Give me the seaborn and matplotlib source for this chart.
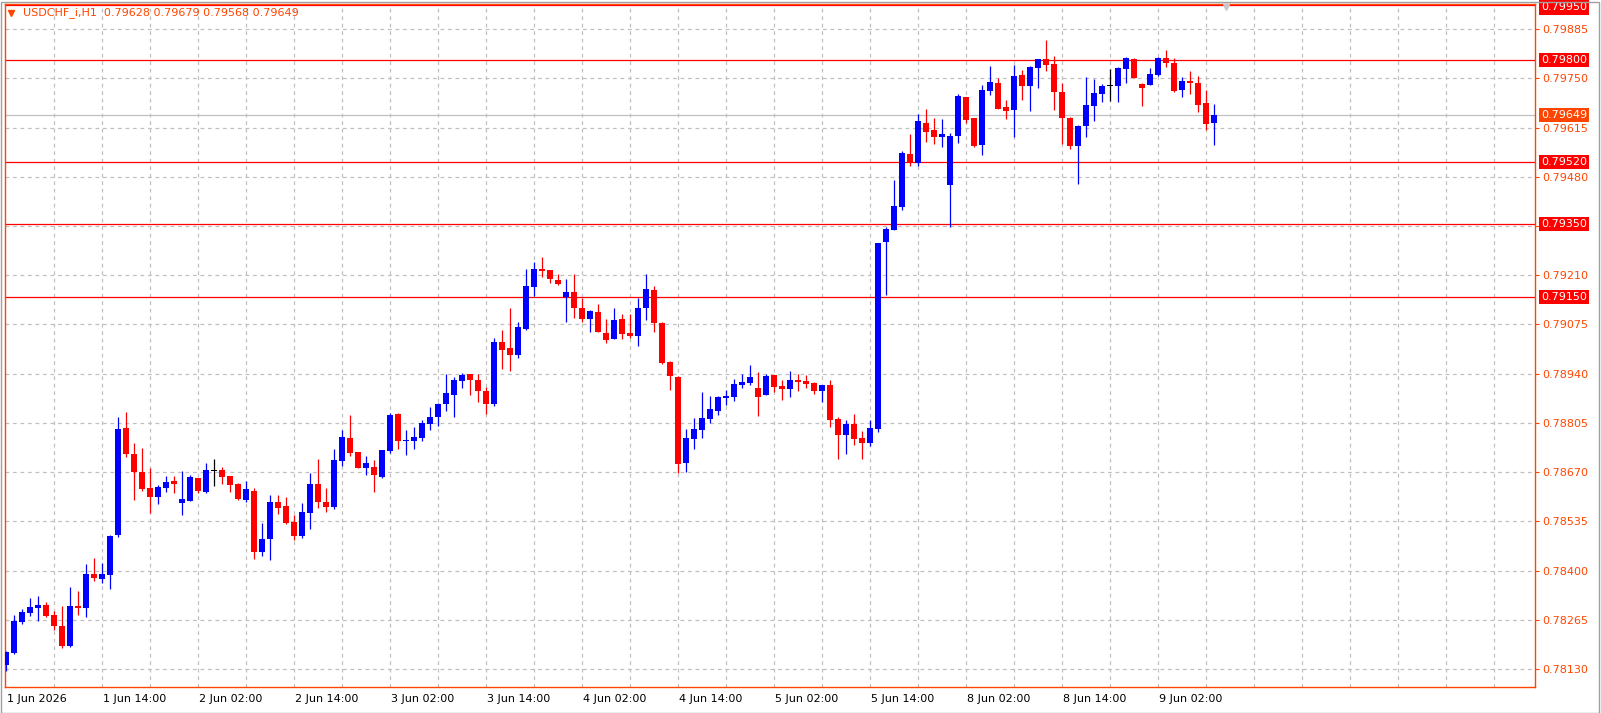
"""USDCHF H1 candlestick chart in MetaTrader style."""

import matplotlib

matplotlib.use("Agg")
import matplotlib.pyplot as plt
import matplotlib.transforms as mtransforms
from matplotlib.patches import Rectangle
import numpy as np
import seaborn as sns

# Hourly bars, 1 Jun 02:00 .. 9 Jun 09:00
opens = [
    0.78142, 0.78175, 0.78260, 0.78284, 0.78297, 0.78306, 0.78278, 0.78248, 0.78193, 0.78303,
    0.78298, 0.78390, 0.78378, 0.78389, 0.78497, 0.78791, 0.78720, 0.78670, 0.78626, 0.78603,
    0.78627, 0.78646, 0.78586, 0.78592, 0.78654, 0.78616, 0.78672, 0.78676, 0.78659, 0.78637,
    0.78594, 0.78618, 0.78452, 0.78486, 0.78588, 0.78577, 0.78533, 0.78496, 0.78559, 0.78637,
    0.78588, 0.78575, 0.78701, 0.78763, 0.78725, 0.78682, 0.78684, 0.78657, 0.78728, 0.78829,
    0.78756, 0.78756, 0.78764, 0.78803, 0.78822, 0.78858, 0.78882, 0.78921, 0.78940, 0.78923,
    0.78892, 0.78858, 0.79027, 0.79010, 0.78992, 0.79063, 0.79178, 0.79227, 0.79224, 0.79197,
    0.79151, 0.79164, 0.79120, 0.79091, 0.79109, 0.79052, 0.79036, 0.79090, 0.79052, 0.79044,
    0.79121, 0.79169, 0.79080, 0.78972, 0.78931, 0.78696, 0.78762, 0.78786, 0.78816, 0.78838,
    0.78874, 0.78877, 0.78910, 0.78915, 0.78901, 0.78882, 0.78936, 0.78906, 0.78899, 0.78923,
    0.78920, 0.78914, 0.78893, 0.78909, 0.78816, 0.78773, 0.78802, 0.78764, 0.78751, 0.78789,
    0.79301, 0.79334, 0.79398, 0.79542, 0.79518, 0.79627, 0.79608, 0.79590, 0.79457, 0.79592,
    0.79699, 0.79641, 0.79568, 0.79716, 0.79737, 0.79671, 0.79664, 0.79759, 0.79730, 0.79779,
    0.79803, 0.79789, 0.79712, 0.79641, 0.79565, 0.79620, 0.79675, 0.79708, 0.79729, 0.79730,
    0.79776, 0.79803, 0.79734, 0.79732, 0.79759, 0.79806, 0.79792, 0.79718, 0.79742, 0.79737,
    0.79682, 0.79628,
]
highs = [
    0.78180, 0.78278, 0.78296, 0.78325, 0.78330, 0.78314, 0.78290, 0.78303, 0.78355, 0.78344,
    0.78418, 0.78434, 0.78421, 0.78499, 0.78821, 0.78835, 0.78750, 0.78736, 0.78681, 0.78634,
    0.78659, 0.78659, 0.78673, 0.78661, 0.78654, 0.78695, 0.78706, 0.78685, 0.78659, 0.78639,
    0.78646, 0.78626, 0.78530, 0.78607, 0.78607, 0.78602, 0.78552, 0.78585, 0.78667, 0.78706,
    0.78626, 0.78733, 0.78785, 0.78827, 0.78725, 0.78714, 0.78703, 0.78731, 0.78831, 0.78832,
    0.78785, 0.78794, 0.78813, 0.78848, 0.78859, 0.78940, 0.78932, 0.78942, 0.78940, 0.78939,
    0.78903, 0.79038, 0.79060, 0.79120, 0.79082, 0.79227, 0.79246, 0.79260, 0.79224, 0.79213,
    0.79200, 0.79213, 0.79148, 0.79116, 0.79131, 0.79090, 0.79120, 0.79104, 0.79104, 0.79148,
    0.79213, 0.79180, 0.79083, 0.78975, 0.78934, 0.78789, 0.78818, 0.78890, 0.78879, 0.78880,
    0.78895, 0.78925, 0.78939, 0.78964, 0.78944, 0.78939, 0.78936, 0.78923, 0.78947, 0.78939,
    0.78936, 0.78917, 0.78909, 0.78923, 0.78821, 0.78813, 0.78829, 0.78783, 0.78813, 0.79298,
    0.79342, 0.79471, 0.79550, 0.79597, 0.79652, 0.79666, 0.79641, 0.79638, 0.79600, 0.79707,
    0.79699, 0.79641, 0.79732, 0.79784, 0.79751, 0.79690, 0.79787, 0.79773, 0.79784, 0.79803,
    0.79855, 0.79811, 0.79737, 0.79644, 0.79622, 0.79754, 0.79748, 0.79734, 0.79775, 0.79781,
    0.79808, 0.79806, 0.79737, 0.79778, 0.79808, 0.79828, 0.79806, 0.79754, 0.79770, 0.79756,
    0.79718, 0.79679,
]
lows = [
    0.78125, 0.78171, 0.78254, 0.78276, 0.78263, 0.78274, 0.78237, 0.78189, 0.78190, 0.78278,
    0.78273, 0.78371, 0.78367, 0.78350, 0.78493, 0.78712, 0.78594, 0.78619, 0.78557, 0.78582,
    0.78615, 0.78614, 0.78553, 0.78592, 0.78612, 0.78614, 0.78633, 0.78638, 0.78615, 0.78594,
    0.78589, 0.78433, 0.78439, 0.78430, 0.78556, 0.78529, 0.78483, 0.78490, 0.78515, 0.78572,
    0.78561, 0.78570, 0.78688, 0.78715, 0.78682, 0.78663, 0.78616, 0.78655, 0.78723, 0.78733,
    0.78718, 0.78733, 0.78755, 0.78785, 0.78797, 0.78838, 0.78822, 0.78902, 0.78882, 0.78863,
    0.78829, 0.78852, 0.78954, 0.78948, 0.78984, 0.79061, 0.79154, 0.79206, 0.79189, 0.79184,
    0.79083, 0.79094, 0.79083, 0.79055, 0.79053, 0.79025, 0.79036, 0.79036, 0.79038, 0.79017,
    0.79088, 0.79053, 0.78966, 0.78895, 0.78667, 0.78670, 0.78734, 0.78764, 0.78806, 0.78827,
    0.78853, 0.78865, 0.78902, 0.78910, 0.78825, 0.78882, 0.78891, 0.78868, 0.78877, 0.78892,
    0.78901, 0.78884, 0.78862, 0.78795, 0.78706, 0.78720, 0.78744, 0.78706, 0.78742, 0.78781,
    0.79155, 0.79334, 0.79389, 0.79509, 0.79509, 0.79575, 0.79570, 0.79561, 0.79343, 0.79572,
    0.79627, 0.79561, 0.79540, 0.79705, 0.79666, 0.79638, 0.79589, 0.79690, 0.79661, 0.79724,
    0.79771, 0.79663, 0.79570, 0.79557, 0.79461, 0.79590, 0.79633, 0.79686, 0.79688, 0.79685,
    0.79738, 0.79750, 0.79674, 0.79732, 0.79756, 0.79781, 0.79712, 0.79699, 0.79708, 0.79657,
    0.79608, 0.79568,
]
closes = [
    0.78176, 0.78262, 0.78286, 0.78300, 0.78306, 0.78275, 0.78249, 0.78193, 0.78303, 0.78298,
    0.78390, 0.78380, 0.78390, 0.78495, 0.78788, 0.78720, 0.78671, 0.78625, 0.78603, 0.78628,
    0.78643, 0.78638, 0.78596, 0.78657, 0.78619, 0.78676, 0.78672, 0.78657, 0.78635, 0.78597,
    0.78624, 0.78452, 0.78486, 0.78588, 0.78572, 0.78531, 0.78496, 0.78561, 0.78637, 0.78589,
    0.78575, 0.78703, 0.78766, 0.78723, 0.78682, 0.78695, 0.78663, 0.78731, 0.78827, 0.78756,
    0.78758, 0.78766, 0.78805, 0.78821, 0.78857, 0.78887, 0.78923, 0.78936, 0.78923, 0.78893,
    0.78858, 0.79027, 0.79006, 0.78992, 0.79068, 0.79180, 0.79227, 0.79222, 0.79199, 0.79186,
    0.79164, 0.79121, 0.79091, 0.79112, 0.79053, 0.79033, 0.79087, 0.79050, 0.79044, 0.79120,
    0.79172, 0.79080, 0.78970, 0.78934, 0.78693, 0.78764, 0.78788, 0.78818, 0.78843, 0.78876,
    0.78879, 0.78912, 0.78917, 0.78931, 0.78877, 0.78934, 0.78904, 0.78898, 0.78923, 0.78917,
    0.78912, 0.78893, 0.78909, 0.78813, 0.78773, 0.78802, 0.78762, 0.78751, 0.78791, 0.79298,
    0.79337, 0.79400, 0.79545, 0.79520, 0.79633, 0.79603, 0.79589, 0.79597, 0.79592, 0.79701,
    0.79636, 0.79564, 0.79718, 0.79740, 0.79667, 0.79661, 0.79756, 0.79730, 0.79781, 0.79803,
    0.79787, 0.79713, 0.79642, 0.79565, 0.79620, 0.79677, 0.79710, 0.79729, 0.79729, 0.79778,
    0.79806, 0.79752, 0.79724, 0.79762, 0.79806, 0.79792, 0.79715, 0.79742, 0.79737, 0.79677,
    0.79625, 0.79649,
]

level_lines = [0.79950, 0.79800, 0.79520, 0.79350, 0.79150]
last_price = 0.79649
price_ticks = [0.78130, 0.78265, 0.78400, 0.78535, 0.78670, 0.78805, 0.78940,
               0.79075, 0.79210, 0.79345, 0.79480, 0.79615, 0.79750, 0.79885]
time_tick_bars = [0, 12, 24, 36, 48, 60, 72, 84, 96, 108, 120, 132, 144]
time_tick_labels = ["1 Jun 2026", "1 Jun 14:00", "2 Jun 02:00", "2 Jun 14:00",
                    "3 Jun 02:00", "3 Jun 14:00", "4 Jun 02:00", "4 Jun 14:00",
                    "5 Jun 02:00", "5 Jun 14:00", "8 Jun 02:00", "8 Jun 14:00",
                    "9 Jun 02:00"]
header = "USDCHF_i,H1  0.79628 0.79679 0.79568 0.79649"

FG = "#FF4500"
UP, DOWN, DOJI = "#0000FF", "#FF0000", "#000000"
GRID = "#C0C0C0"

sns.set_theme(style="white")
plt.rcParams["font.family"] = ["DejaVu Sans"]
plt.rcParams["font.size"] = 8

W, H = 1601, 713
fig = plt.figure(figsize=(W / 100, H / 100), dpi=100)
fig.patch.set_facecolor("white")
ax = fig.add_axes([5 / W, 1 - 687 / H, 1530 / W, 683 / H])
ax.set_facecolor("white")

o = np.array(opens)
h = np.array(highs)
l = np.array(lows)
c = np.array(closes)
x = np.arange(len(o))
colors = np.where(c > o, UP, np.where(c < o, DOWN, DOJI))

ax.set_xlim(-0.125, 191.125)
ax.set_ylim(0.780809, 0.799537)

# grid
for p in price_ticks:
    ax.axhline(p, color=GRID, lw=0.9, dashes=(3, 3), zorder=0)
for gx in np.arange(6, 191, 6):
    ax.axvline(gx, color=GRID, lw=0.9, dashes=(3, 3), zorder=0)

# levels and current price
for lv in level_lines:
    ax.axhline(lv, color="#FF0000", lw=0.9, zorder=1)
ax.axhline(last_price, color="#C0C0C0", lw=0.9, zorder=1)

# candles
ax.vlines(x, l, h, colors=colors, lw=0.9, zorder=3)
body = np.maximum(np.abs(c - o), 0.00003)
ax.bar(x, body, bottom=np.minimum(o, c), width=0.64, color=colors,
       linewidth=0, zorder=4)

# axes frame
for s in ax.spines.values():
    s.set_color(FG)
    s.set_linewidth(1.0)

ax.yaxis.tick_right()
ax.set_yticks(price_ticks, [f"{p:.5f}" for p in price_ticks])
ax.tick_params(axis="y", colors=FG, length=3, width=0.8, pad=2, labelsize=8)
ax.set_xticks(time_tick_bars, time_tick_labels)
ax.tick_params(axis="x", colors=FG, length=3, width=0.8, pad=2, labelsize=8,
               labelcolor="black")
shift = mtransforms.ScaledTranslation(1 / 100, 0, fig.dpi_scale_trans)
for lab in ax.get_xticklabels():
    lab.set_horizontalalignment("left")
    lab.set_transform(lab.get_transform() + shift)

# right-side price boxes (kept inside the window at the top)
box_tr = mtransforms.blended_transform_factory(fig.transFigure, ax.transData)
down = mtransforms.ScaledTranslation(0, -2 / 100, fig.dpi_scale_trans)
for lv in level_lines:
    tr = box_tr + down if lv == max(level_lines) else box_tr
    ax.text(1541 / W, lv, f"{lv:.5f}", transform=tr, color="white",
            fontsize=8, va="center", ha="left", clip_on=False, zorder=10,
            bbox=dict(boxstyle="square,pad=0.2", facecolor="#FF0000", edgecolor="none"))
ax.text(1541 / W, last_price, f"{last_price:.5f}", transform=box_tr, color="white",
        fontsize=8, va="center", ha="left", clip_on=False, zorder=10,
        bbox=dict(boxstyle="square,pad=0.2", facecolor=FG, edgecolor="none"))

# header
ax.plot([0.0039], [0.9875], marker="v", color=FG, markersize=5,
        transform=ax.transAxes, clip_on=False, zorder=10)
ax.text(0.0118, 0.9875, header, transform=ax.transAxes, color=FG, fontsize=8,
        va="center", ha="left", zorder=10)

# chart shift marker
ax.plot([0.798], [0.995], marker="v", color="#C8C8C8", markersize=4,
        transform=ax.transAxes, clip_on=False, zorder=10)

# outer window border
fig.patches.append(Rectangle((0.5 / W, 0.5 / H), 1 - 3 / W, 1 - 2 / H,
                             transform=fig.transFigure, fill=False,
                             edgecolor="#A0A0A0", lw=1))

fig.savefig("out.png", dpi=100)
